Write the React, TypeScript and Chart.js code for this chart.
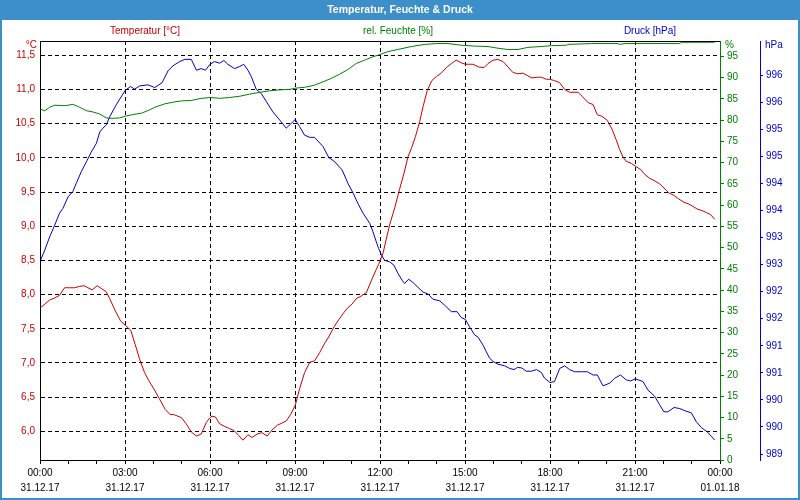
import React, { useEffect, useRef } from 'react';
import { Chart, registerables } from 'chart.js';

Chart.register(...registerables);

// ---------- data ----------
const chartTitle = 'Temperatur, Feuchte & Druck';
const seriesNames = ['Temperatur [°C]', 'rel. Feuchte [%]', 'Druck [hPa]'];

const timeLabels = ['00:00', '03:00', '06:00', '09:00', '12:00', '15:00', '18:00', '21:00', '00:00'];
const dateLabels = ['31.12.17', '31.12.17', '31.12.17', '31.12.17', '31.12.17', '31.12.17', '31.12.17', '31.12.17', '01.01.18'];

const tempTicks = [6.0, 6.5, 7.0, 7.5, 8.0, 8.5, 9.0, 9.5, 10.0, 10.5, 11.0, 11.5];
const humTicks = [0, 5, 10, 15, 20, 25, 30, 35, 40, 45, 50, 55, 60, 65, 70, 75, 80, 85, 90, 95];
const pressTicks = [989, 989.5, 990, 990.5, 991, 991.5, 992, 992.5, 993, 993.5, 994, 994.5, 995, 995.5, 996];

// hours since 31.12.17 00:00
const tempHours = [0.02, 0.17, 0.34, 0.52, 0.69, 0.87, 1.05, 1.22, 1.40, 1.55, 1.69, 1.84, 2.02, 2.16, 2.34, 2.46, 2.66, 2.85, 3.01, 3.20, 3.36, 3.52, 3.69, 3.84, 4.02, 4.22, 4.42, 4.58, 4.75, 4.99, 5.16, 5.34, 5.52, 5.69, 5.87, 6.00, 6.07, 6.19, 6.34, 6.52, 6.69, 6.85, 7.01, 7.16, 7.34, 7.48, 7.67, 7.83, 8.02, 8.19, 8.38, 8.54, 8.69, 8.85, 9.01, 9.16, 9.34, 9.52, 9.69, 9.87, 10.05, 10.19, 10.38, 10.54, 10.73, 10.87, 11.01, 11.16, 11.34, 11.52, 11.69, 11.87, 11.95, 12.11, 12.22, 12.34, 12.52, 12.69, 12.85, 12.99, 13.11, 13.25, 13.40, 13.52, 13.67, 13.83, 13.99, 14.16, 14.34, 14.52, 14.69, 14.87, 15.01, 15.28, 15.48, 15.67, 15.81, 15.99, 16.16, 16.34, 16.52, 16.69, 16.87, 17.05, 17.22, 17.36, 17.55, 17.69, 17.87, 17.99, 18.16, 18.34, 18.52, 18.69, 18.99, 19.16, 19.34, 19.52, 19.67, 19.83, 20.02, 20.19, 20.34, 20.46, 20.58, 20.69, 20.87, 21.01, 21.20, 21.34, 21.52, 21.67, 21.87, 22.02, 22.19, 22.38, 22.54, 22.73, 22.87, 23.05, 23.20, 23.36, 23.52, 23.67, 23.81];
const tempValues = [7.81, 7.86, 7.92, 7.95, 7.99, 8.10, 8.10, 8.10, 8.12, 8.13, 8.10, 8.07, 8.13, 8.09, 8.04, 7.94, 7.76, 7.61, 7.55, 7.48, 7.27, 7.05, 6.86, 6.74, 6.62, 6.47, 6.32, 6.25, 6.24, 6.20, 6.11, 5.99, 5.93, 5.96, 6.13, 6.20, 6.22, 6.21, 6.11, 6.07, 6.04, 6.01, 5.94, 5.87, 5.95, 5.91, 5.96, 5.98, 5.93, 6.02, 6.09, 6.12, 6.15, 6.25, 6.38, 6.62, 6.86, 7.01, 7.03, 7.15, 7.29, 7.38, 7.53, 7.63, 7.74, 7.81, 7.86, 7.94, 7.98, 8.03, 8.20, 8.37, 8.44, 8.61, 8.81, 9.02, 9.27, 9.54, 9.78, 10.02, 10.14, 10.31, 10.53, 10.75, 10.99, 11.13, 11.19, 11.24, 11.32, 11.38, 11.43, 11.39, 11.37, 11.37, 11.33, 11.32, 11.38, 11.43, 11.44, 11.41, 11.33, 11.25, 11.23, 11.24, 11.20, 11.17, 11.18, 11.18, 11.15, 11.15, 11.13, 11.10, 11.00, 10.96, 10.96, 10.89, 10.81, 10.78, 10.63, 10.61, 10.55, 10.42, 10.26, 10.12, 10.01, 9.95, 9.92, 9.88, 9.83, 9.76, 9.70, 9.67, 9.62, 9.56, 9.49, 9.45, 9.40, 9.35, 9.33, 9.29, 9.25, 9.23, 9.20, 9.17, 9.10];

const humHours = [0.02, 0.17, 0.34, 0.52, 0.75, 0.93, 1.16, 1.40, 1.64, 1.87, 2.11, 2.34, 2.58, 2.81, 3.01, 3.28, 3.58, 3.87, 4.05, 4.40, 4.69, 4.99, 5.34, 5.69, 6.00, 6.34, 6.69, 7.05, 7.40, 7.75, 8.11, 8.46, 8.81, 9.01, 9.34, 9.69, 9.99, 10.28, 10.58, 10.87, 11.16, 11.46, 11.75, 11.95, 12.28, 12.63, 13.11, 13.58, 13.99, 14.40, 14.87, 15.34, 15.81, 16.16, 16.52, 16.87, 17.22, 17.69, 18.05, 18.58, 18.63, 19.46, 20.40, 20.46, 20.64, 22.58, 22.63, 23.81];
const humValues = [82.5, 82.2, 83.0, 83.5, 83.4, 83.4, 83.7, 83.0, 82.2, 81.9, 81.4, 80.5, 80.4, 80.5, 80.9, 81.3, 81.6, 82.4, 83.0, 83.8, 84.2, 84.5, 84.6, 85.1, 85.3, 85.1, 85.3, 85.6, 86.1, 86.5, 86.9, 87.1, 87.2, 87.5, 87.7, 88.2, 89.0, 89.8, 90.8, 91.9, 93.3, 94.1, 94.9, 95.3, 96.1, 96.6, 97.3, 97.8, 98.0, 98.0, 97.6, 97.4, 97.3, 96.9, 96.6, 96.6, 97.1, 97.3, 97.5, 97.6, 97.8, 98.0, 98.0, 97.8, 98.0, 98.0, 98.3, 98.3];

const pressHours = [0.02, 0.17, 0.34, 0.52, 0.69, 0.81, 0.99, 1.16, 1.28, 1.46, 1.64, 1.81, 1.99, 2.11, 2.22, 2.34, 2.46, 2.69, 3.01, 3.20, 3.34, 3.52, 3.81, 4.05, 4.31, 4.52, 4.69, 4.93, 5.11, 5.34, 5.52, 5.69, 5.84, 6.00, 6.16, 6.34, 6.49, 6.63, 6.87, 7.05, 7.19, 7.34, 7.46, 7.63, 7.81, 7.99, 8.22, 8.46, 8.69, 8.85, 9.01, 9.16, 9.34, 9.52, 9.69, 9.99, 10.19, 10.40, 10.66, 10.87, 11.05, 11.22, 11.40, 11.64, 11.75, 11.87, 11.95, 12.05, 12.16, 12.34, 12.49, 12.63, 12.78, 12.87, 13.01, 13.16, 13.34, 13.52, 13.69, 13.87, 14.11, 14.28, 14.52, 14.72, 14.87, 15.01, 15.16, 15.34, 15.46, 15.64, 15.75, 15.87, 15.99, 16.16, 16.40, 16.58, 16.73, 16.85, 17.01, 17.16, 17.34, 17.52, 17.69, 17.81, 18.00, 18.16, 18.34, 18.52, 18.69, 18.87, 19.11, 19.32, 19.52, 19.67, 19.87, 20.11, 20.28, 20.49, 20.69, 20.85, 21.01, 21.28, 21.46, 21.69, 21.87, 22.02, 22.16, 22.38, 22.58, 22.76, 22.99, 23.16, 23.34, 23.55, 23.69, 23.81];
const pressValues = [992.58, 992.77, 993.01, 993.23, 993.45, 993.54, 993.75, 993.85, 994.00, 994.22, 994.40, 994.58, 994.74, 994.95, 995.02, 995.08, 995.23, 995.45, 995.72, 995.79, 995.74, 995.80, 995.82, 995.77, 995.86, 996.08, 996.17, 996.25, 996.29, 996.29, 996.09, 996.12, 996.09, 996.20, 996.25, 996.22, 996.27, 996.20, 996.12, 996.16, 996.20, 996.09, 995.97, 995.74, 995.66, 995.51, 995.32, 995.17, 995.02, 995.10, 995.18, 995.05, 994.89, 994.85, 994.85, 994.68, 994.48, 994.40, 994.25, 994.00, 993.82, 993.63, 993.45, 993.26, 993.11, 992.92, 992.80, 992.68, 992.58, 992.55, 992.49, 992.34, 992.21, 992.15, 992.23, 992.17, 992.08, 991.99, 991.96, 991.86, 991.83, 991.75, 991.63, 991.63, 991.52, 991.49, 991.35, 991.20, 991.16, 991.01, 990.89, 990.77, 990.71, 990.66, 990.63, 990.58, 990.56, 990.60, 990.59, 990.53, 990.53, 990.56, 990.51, 990.40, 990.32, 990.34, 990.58, 990.63, 990.56, 990.52, 990.52, 990.52, 990.46, 990.46, 990.26, 990.31, 990.40, 990.46, 990.37, 990.35, 990.39, 990.34, 990.18, 990.07, 989.91, 989.78, 989.78, 989.86, 989.84, 989.80, 989.76, 989.60, 989.49, 989.41, 989.33, 989.26];

// ---------- styles ----------
const FONT = "'Liberation Sans', Arial, sans-serif";
const RED = '#cc0000';
const GREEN = '#008000';
const BLUE = '#0000d0';
const FRAME_BLUE = '#3d8fc9';

const toPoints = (xs: number[], ys: number[]) => xs.map((x, i) => ({ x, y: ys[i] }));

const decorPlugin = {
  id: 'decor',
  beforeDraw(chart: any) {
    const { ctx } = chart;
    ctx.save();
    ctx.fillStyle = '#ffffff';
    ctx.fillRect(0, 0, 800, 500);
    // title bar
    ctx.fillStyle = FRAME_BLUE;
    ctx.fillRect(0, 0, 800, 20);
    ctx.fillRect(0, 20, 2, 480);
    ctx.fillRect(798, 20, 2, 480);
    ctx.fillRect(0, 498, 800, 2);
    ctx.fillStyle = '#ffffff';
    ctx.font = `bold 10.5px ${FONT}`;
    ctx.textAlign = 'center';
    ctx.textBaseline = 'middle';
    ctx.fillText(chartTitle, 400, 10);
    // series captions
    ctx.font = `10px ${FONT}`;
    ctx.fillStyle = RED;
    ctx.fillText(seriesNames[0], 145, 31);
    ctx.fillStyle = GREEN;
    ctx.fillText(seriesNames[1], 398, 31);
    ctx.fillStyle = BLUE;
    ctx.fillText(seriesNames[2], 650, 31);
    // unit labels
    ctx.textAlign = 'right';
    ctx.fillStyle = RED;
    ctx.fillText('°C', 37, 45);
    ctx.textAlign = 'left';
    ctx.fillStyle = GREEN;
    ctx.fillText('%', 725, 45);
    ctx.fillStyle = BLUE;
    ctx.fillText('hPa', 765, 45);
    ctx.restore();
  },
  afterDraw(chart: any) {
    const { ctx, chartArea } = chart;
    ctx.save();
    ctx.strokeStyle = '#000';
    ctx.lineWidth = 1;
    ctx.beginPath();
    ctx.moveTo(chartArea.left, Math.round(chartArea.top) + 0.5);
    ctx.lineTo(chartArea.right, Math.round(chartArea.top) + 0.5);
    ctx.stroke();
    ctx.restore();
  },
};

export default function App() {
  const ref = useRef<HTMLCanvasElement | null>(null);

  useEffect(() => {
    if (!ref.current) return;
    const tickFont = { family: FONT, size: 10 };
    const chart = new Chart(ref.current, {
      type: 'line',
      data: {
        datasets: [
          { label: seriesNames[1], data: toPoints(humHours, humValues), yAxisID: 'yH', borderColor: GREEN, borderWidth: 1, pointRadius: 0, fill: false },
          { label: seriesNames[0], data: toPoints(tempHours, tempValues), yAxisID: 'yT', borderColor: RED, borderWidth: 1, pointRadius: 0, fill: false },
          { label: seriesNames[2], data: toPoints(pressHours, pressValues), yAxisID: 'yP', borderColor: BLUE, borderWidth: 1, pointRadius: 0, fill: false },
        ],
      },
      options: {
        responsive: false,
        animation: false,
        events: [],
        layout: { padding: { left: 2, right: 2, top: 41, bottom: 2 } },
        plugins: { legend: { display: false }, tooltip: { enabled: false }, title: { display: false } },
        elements: { line: { tension: 0 }, point: { radius: 0 } },
        scales: {
          x: {
            type: 'linear',
            position: 'bottom',
            min: 0,
            max: 24,
            afterBuildTicks: (s: any) => {
              const t = [];
              for (let h = 0; h <= 24; h++) t.push({ value: h });
              s.ticks = t;
            },
            afterFit: (s: any) => { s.height = 38; },
            ticks: {
              autoSkip: false,
              maxRotation: 0,
              color: '#000',
              padding: 2,
              font: { ...tickFont, lineHeight: '15px' },
              callback: (v: any) => (v % 3 === 0 ? [timeLabels[v / 3], dateLabels[v / 3]] : ''),
            },
            grid: {
              color: (c: any) => {
                const v = c.tick ? c.tick.value : 0;
                return v % 3 === 0 && v > 0 && v < 24 ? '#000' : 'rgba(0,0,0,0)';
              },
              tickColor: '#000',
              tickLength: 4,
              lineWidth: 1,
            },
            border: { display: true, color: '#000', width: 1, dash: [4, 3] },
          },
          yT: {
            type: 'linear',
            position: 'left',
            min: 5.58,
            max: 11.71,
            afterBuildTicks: (s: any) => { s.ticks = tempTicks.map((v) => ({ value: v })); },
            afterFit: (s: any) => { s.width = 38; },
            ticks: {
              color: RED,
              padding: 5,
              font: tickFont,
              callback: (v: any) => Number(v).toFixed(1).replace('.', ','),
            },
            grid: { color: '#000', drawTicks: false, lineWidth: 1 },
            border: { display: true, color: '#000', width: 1, dash: [4, 3] },
          },
          yH: {
            type: 'linear',
            position: 'right',
            min: 0,
            max: 98.6,
            afterBuildTicks: (s: any) => { s.ticks = humTicks.map((v) => ({ value: v })); },
            afterFit: (s: any) => { s.width = 40; },
            ticks: { color: GREEN, padding: 3, font: tickFont, callback: (v: any) => String(v) },
            grid: { drawOnChartArea: false, drawTicks: true, tickLength: 4, color: GREEN, tickColor: GREEN },
            border: { display: true, color: GREEN, width: 1 },
          },
          yP: {
            type: 'linear',
            position: 'right',
            min: 988.89,
            max: 996.63,
            afterBuildTicks: (s: any) => { s.ticks = pressTicks.map((v) => ({ value: v })); },
            afterFit: (s: any) => { s.width = 38; },
            ticks: { color: BLUE, padding: 3, font: tickFont, callback: (v: any) => String(Math.round(Number(v))) },
            grid: { drawOnChartArea: false, drawTicks: true, tickLength: 3, color: BLUE, tickColor: BLUE },
            border: { display: true, color: BLUE, width: 1 },
          },
        },
      },
      plugins: [decorPlugin],
    } as any);
    return () => chart.destroy();
  }, []);

  return (
    <div style={{ position: 'absolute', left: 0, top: 0, width: 800, height: 500 }}>
      <canvas ref={ref} width={800} height={500} style={{ display: 'block', width: 800, height: 500 }} />
    </div>
  );
}
